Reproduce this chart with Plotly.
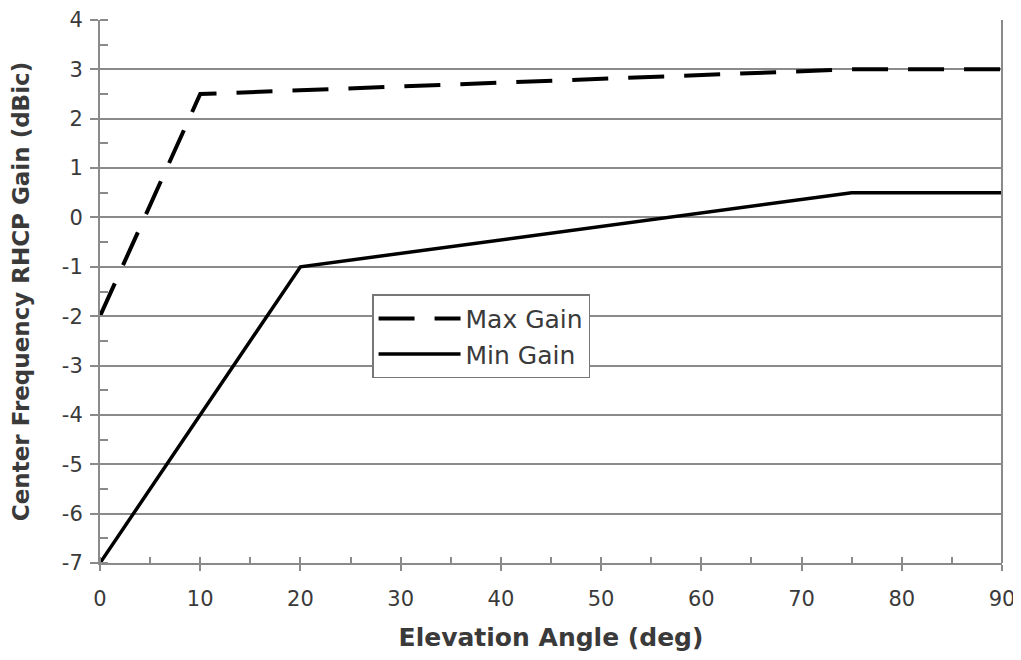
import plotly.graph_objects as go

# Data
angle_max = [0, 10, 75, 90]
gain_max = [-2, 2.5, 3, 3]

angle_min = [0, 20, 75, 90]
gain_min = [-7, -1, 0.5, 0.5]

x_ticks = [0, 10, 20, 30, 40, 50, 60, 70, 80, 90]
y_ticks = [-7, -6, -5, -4, -3, -2, -1, 0, 1, 2, 3, 4]
y_labels = [str(v) for v in y_ticks]  # plain hyphen minus like the original

font_main = "DejaVu Sans, Arial, sans-serif"
grid_col = "#8a8a8a"
text_col = "#3a3a3a"

fig = go.Figure()
fig.add_trace(go.Scatter(x=angle_max, y=gain_max, mode="lines", name="Max Gain",
                         line=dict(color="black", width=4, dash="36px,20px")))
fig.add_trace(go.Scatter(x=angle_min, y=gain_min, mode="lines", name="Min Gain",
                         line=dict(color="black", width=3.5)))

# page body has an 8px margin, so the figure is shrunk/offset to match
fig.update_layout(
    width=1013, height=644,
    margin=dict(l=92, r=19, t=12, b=89, autoexpand=False),
    plot_bgcolor="white", paper_bgcolor="white",
    font=dict(family=font_main, size=21, color=text_col),
    legend=dict(x=0.3016, y=0.495, xanchor="left", yanchor="top",
                bgcolor="white", bordercolor="#777", borderwidth=1.5,
                font=dict(family=font_main, size=25, color=text_col),
                tracegroupgap=0, itemwidth=82),
    showlegend=True,
)

fig.update_xaxes(
    range=[0, 90], tickvals=x_ticks, showgrid=False, automargin=False,
    tickfont=dict(family=font_main, size=21, color=text_col), ticklabelstandoff=10,
    ticklabeloverflow="allow",
    showline=True, linecolor=grid_col, linewidth=2, mirror=False,
    ticks="outside", ticklen=6, tickwidth=2, tickcolor=grid_col,
    minor=dict(dtick=5, ticks="inside", ticklen=6, tickcolor=grid_col, tickwidth=1.5),
    title=dict(text="<b>Elevation Angle (deg)</b>", standoff=24,
               font=dict(family=font_main, size=25, color=text_col)),
    zeroline=False,
)
fig.update_yaxes(
    range=[-7, 4], tickvals=y_ticks, ticktext=y_labels, automargin=False,
    tickfont=dict(family=font_main, size=21, color=text_col), ticklabelstandoff=3,
    showgrid=True, gridcolor=grid_col, gridwidth=2,
    showline=True, linecolor=grid_col, linewidth=2,
    ticks="outside", ticklen=8, tickwidth=2, tickcolor=grid_col,
    minor=dict(dtick=0.5, ticks="inside", ticklen=8, tickcolor=grid_col, tickwidth=1.5),
    title=dict(text="<b>Center Frequency RHCP Gain (dBic)</b>", standoff=28,
               font=dict(family=font_main, size=23, color=text_col)),
    zeroline=False,
)

# right border of the plot area
fig.add_shape(type="line", xref="paper", yref="paper", x0=1, x1=1, y0=0, y1=1,
              line=dict(color=grid_col, width=2))

fig.write_html("out.html")
